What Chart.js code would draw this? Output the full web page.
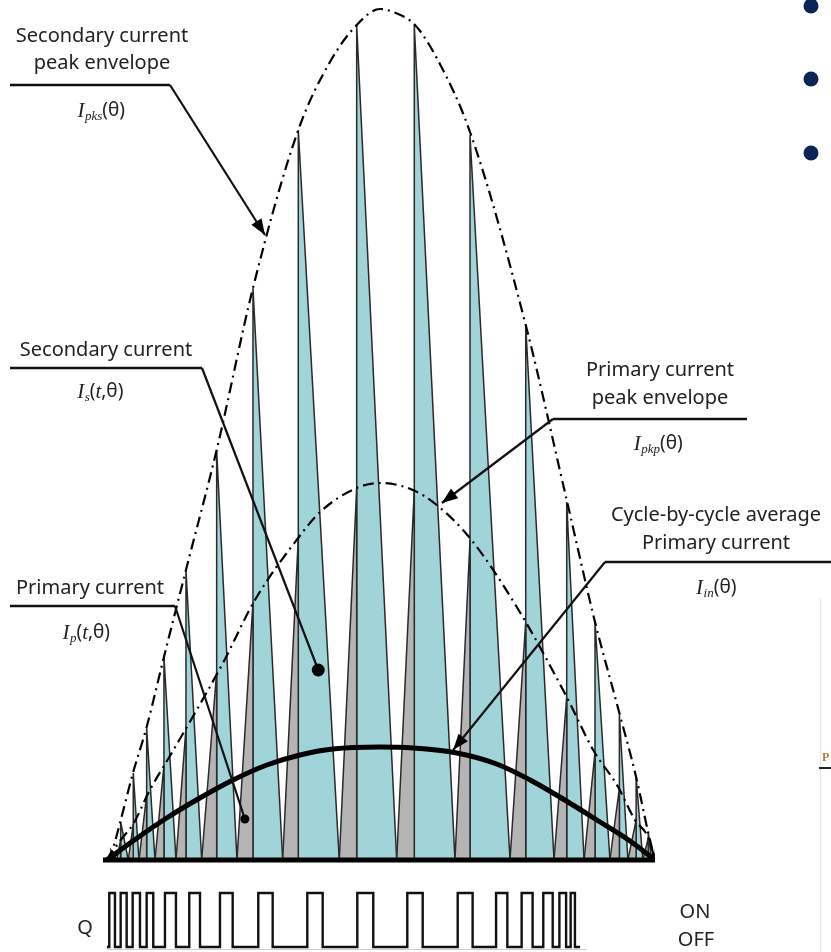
<!DOCTYPE html>
<html>
<head>
<meta charset="utf-8">
<script src="https://cdn.jsdelivr.net/npm/chart.js@4.4.0/dist/chart.umd.min.js"></script>
<style>
  html, body { margin: 0; padding: 0; background: #fff; }
  canvas { display: block; }
</style>
</head>
<body>
<canvas id="flybackChart" width="831" height="952"></canvas>
<script>
// switching cycles over half a line period (theta in degrees, currents in A)
const cycleOnStart   = [0, 3.19, 7.0, 10.51, 15.77, 22.67, 31.11, 42.7, 57.71, 76.3, 95.16, 114.3, 132.38, 146.83, 156.7, 165.2, 171.1, 176.0, 178.9];
const cycleSwitchAt  = [1.31, 4.5, 8.64, 13.04, 18.72, 25.95, 36.03, 47.96, 62.84, 82.02, 100.94, 119.24, 137.54, 151.0, 160.3, 168.3, 173.8, 177.8, 179.5];
const secondaryPeaks = [0.10, 0.38, 0.87, 1.32, 2.03, 2.90, 4.10, 5.72, 7.30, 8.35, 8.35, 7.25, 5.35, 3.58, 2.38, 1.45, 0.83, 0.27, 0.08];
const primaryPeaks   = [0.06, 0.20, 0.36, 0.65, 0.95, 1.32, 1.88, 2.58, 3.22, 3.72, 3.70, 3.20, 2.38, 1.63, 1.08, 0.72, 0.40, 0.22, 0.06];
const halfPeriodEnd  = 180;

// envelopes
const secEnvTheta  = [0, 1.97, 4.27, 8.54, 13.04, 18.72, 25.95, 36.03, 47.96, 62.84, 73.25, 82.02, 89.68, 93.95, 101.18, 108.3, 119.24, 137.54, 151.0, 160.3, 168.3, 173.8, 177.8, 180];
const secEnvValues = [0, 0.12, 0.37, 0.87, 1.33, 2.03, 2.90, 4.10, 5.72, 7.30, 7.98, 8.35, 8.51, 8.48, 8.35, 8.02, 7.28, 5.35, 3.60, 2.38, 1.47, 0.83, 0.27, 0];
const priEnvTheta  = [0, 1.31, 4.5, 8.64, 14.1, 21.25, 29.47, 38.1, 48.6, 62.3, 70.0, 82.0, 89.7, 100.5, 108.3, 119.2, 134.6, 151.0, 159.7, 167.9, 173.4, 177.7, 180];
const priEnvValues = [0, 0.06, 0.20, 0.36, 0.70, 1.07, 1.50, 1.97, 2.60, 3.20, 3.48, 3.72, 3.77, 3.70, 3.55, 3.22, 2.53, 1.63, 1.10, 0.73, 0.40, 0.23, 0];

// cycle-by-cycle average primary current
const avgTheta  = [0, 8.54, 19.6, 30.5, 41.4, 52.5, 63.4, 74.2, 89.7, 100.5, 114.9, 128.0, 139.0, 149.8, 160.9, 171.8, 180];
const avgValues = [0, 0.19, 0.42, 0.62, 0.80, 0.95, 1.05, 1.11, 1.13, 1.12, 1.07, 0.96, 0.80, 0.61, 0.40, 0.19, 0];

// gate signal Q: alternating rising / falling edges
const gateEdges = [0.76, 2.63, 4.5, 6.47, 8.44, 10.84, 13.04, 15.21, 19.05, 22.66, 27.03, 30.56, 37.12, 41.29, 49.7, 54.43,
                   65.8, 70.85, 82.22, 87.47, 98.64, 103.7, 115.2, 120.1, 127.8, 131.5, 136.2, 139.8, 143.3, 146.4, 148.6, 150.8, 152.3, 153.7];
const gateStart = 0;
const gateEnd = 155.4;

const TEAL = 'rgb(160, 212, 216)';
const GREY = 'rgb(180, 180, 180)';
const EDGE = '#2a2a2a';
const TEXT_FONT = '"Noto Sans", "DejaVu Sans", sans-serif';
const SERIF = '"Liberation Serif", "DejaVu Serif", serif';

function toPoints(xs, ys) {
    return xs.map((x, i) => ({ x: x, y: ys[i] }));
}

function buildSecondaryTriangles() {
    const pts = [];
    cycleSwitchAt.forEach((t, i) => {
        const end = i + 1 < cycleOnStart.length ? cycleOnStart[i + 1] : halfPeriodEnd;
        pts.push({ x: t, y: 0 }, { x: t, y: secondaryPeaks[i] }, { x: end, y: 0 });
    });
    return pts;
}

function buildPrimaryTriangles() {
    const pts = [];
    cycleOnStart.forEach((t, i) => {
        pts.push({ x: t, y: 0 }, { x: cycleSwitchAt[i], y: primaryPeaks[i] }, { x: cycleSwitchAt[i], y: 0 });
    });
    return pts;
}

function buildGatePoints() {
    const pts = [{ x: gateStart, y: 0 }];
    let level = 0;
    gateEdges.forEach(t => {
        level = 1 - level;
        pts.push({ x: t, y: level });
    });
    pts.push({ x: gateEnd, y: 0 });
    return pts;
}

// text pieces: plain label lines, math symbol, leader line
const callouts = [
    {
        lines: ['Secondary current', 'peak envelope'], cx: 102, ys: [36, 63],
        underline: [10, 170, 85], from: [170, 85],
        symbol: { cx: 101, y: 111, parts: [['I', 'i'], ['pks', 's'], ['(θ)', 't']] },
        target: { x: 51.9, y: 6.25 }, end: 'arrow'
    },
    {
        lines: ['Secondary current'], cx: 106, ys: [350],
        underline: [10, 202, 368], from: [202, 368],
        symbol: { cx: 100, y: 392, parts: [['I', 'i'], ['s', 's'], ['(', 't'], ['t', 'i'], [',θ)', 't']] },
        target: { x: 69.4, y: 1.90 }, end: 'dot', dot: 6.5
    },
    {
        lines: ['Primary current'], cx: 90, ys: [588],
        underline: [10, 175, 606], from: [175, 606],
        symbol: { cx: 86, y: 633, parts: [['I', 'i'], ['p', 's'], ['(', 't'], ['t', 'i'], [',θ)', 't']] },
        target: { x: 45.3, y: 0.41 }, end: 'dot', dot: 4.5
    },
    {
        lines: ['Primary current', 'peak envelope'], cx: 660, ys: [370, 398],
        underline: [553, 747, 419], from: [553, 419],
        symbol: { cx: 658, y: 444, parts: [['I', 'i'], ['pkp', 's'], ['(θ)', 't']] },
        target: { x: 110.0, y: 3.57 }, end: 'arrow'
    },
    {
        lines: ['Cycle-by-cycle average', 'Primary current'], cx: 716, ys: [515, 543],
        underline: [605, 831, 562], from: [605, 562],
        symbol: { cx: 716, y: 588, parts: [['I', 'i'], ['in', 's'], ['(θ)', 't']] },
        target: { x: 113.7, y: 1.10 }, end: 'arrow'
    }
];

function partFont(kind) {
    if (kind === 'i') return 'italic 21px ' + SERIF;
    if (kind === 's') return 'italic 13px ' + SERIF;
    return '19px ' + TEXT_FONT;
}

function drawSymbol(ctx, sym) {
    let total = 0;
    sym.parts.forEach(p => { ctx.font = partFont(p[1]); total += ctx.measureText(p[0]).width; });
    let x = sym.cx - total / 2;
    ctx.textAlign = 'left';
    sym.parts.forEach(p => {
        ctx.font = partFont(p[1]);
        ctx.fillText(p[0], x, sym.y + (p[1] === 's' ? 6 : 0));
        x += ctx.measureText(p[0]).width + (p[1] === 'i' && p[0] === 'I' ? 0.5 : 0);
    });
}

function drawArrowHead(ctx, x0, y0, x1, y1) {
    const ang = Math.atan2(y1 - y0, x1 - x0);
    const len = 16, half = 6;
    ctx.beginPath();
    ctx.moveTo(x1, y1);
    ctx.lineTo(x1 - len * Math.cos(ang) + half * Math.sin(ang), y1 - len * Math.sin(ang) - half * Math.cos(ang));
    ctx.lineTo(x1 - len * Math.cos(ang) - half * Math.sin(ang), y1 - len * Math.sin(ang) + half * Math.cos(ang));
    ctx.closePath();
    ctx.fill();
}

const calloutPlugin = {
    id: 'callouts',
    afterDraw(chart) {
        const ctx = chart.ctx;
        const xs = chart.scales.x, ys = chart.scales.y;
        ctx.save();
        ctx.fillStyle = '#222';
        ctx.strokeStyle = '#111';
        ctx.textBaseline = 'middle';
        callouts.forEach(c => {
            ctx.font = '20px ' + TEXT_FONT;
            ctx.textAlign = 'center';
            ctx.fillStyle = '#222';
            c.lines.forEach((line, i) => ctx.fillText(line, c.cx, c.ys[i]));
            drawSymbol(ctx, c.symbol);

            ctx.lineWidth = 2.4;
            ctx.beginPath();
            ctx.moveTo(c.underline[0], c.underline[2]);
            ctx.lineTo(c.underline[1], c.underline[2]);
            ctx.stroke();

            const tx = xs.getPixelForValue(c.target.x);
            const ty = ys.getPixelForValue(c.target.y);
            ctx.lineWidth = 2.2;
            ctx.beginPath();
            ctx.moveTo(c.from[0], c.from[1]);
            ctx.lineTo(tx, ty);
            ctx.stroke();
            ctx.fillStyle = '#000';
            if (c.end === 'arrow') {
                drawArrowHead(ctx, c.from[0], c.from[1], tx, ty);
            } else {
                ctx.beginPath();
                ctx.arc(tx, ty, c.dot, 0, Math.PI * 2);
                ctx.fill();
            }
        });

        // gate signal labels
        ctx.fillStyle = '#222';
        ctx.font = '20px ' + TEXT_FONT;
        ctx.textAlign = 'center';
        ctx.fillText('Q', 85, 928);
        ctx.fillText('ON', 695, 912);
        ctx.fillText('OFF', 696, 940);

        // light rule under the gate trace
        ctx.strokeStyle = '#cfcfcf';
        ctx.lineWidth = 1;
        ctx.beginPath();
        ctx.moveTo(107, 949.5);
        ctx.lineTo(587, 949.5);
        ctx.stroke();

        // slide bullets and page edge remnants
        ctx.fillStyle = '#0c2557';
        [6, 79, 153].forEach(y => {
            ctx.beginPath();
            ctx.arc(811, y, 7.5, 0, Math.PI * 2);
            ctx.fill();
        });
        ctx.strokeStyle = '#e6e6e6';
        ctx.beginPath();
        ctx.moveTo(820.5, 598);
        ctx.lineTo(820.5, 952);
        ctx.stroke();
        ctx.fillStyle = '#b07a3a';
        ctx.font = 'bold 12px ' + SERIF;
        ctx.textAlign = 'left';
        ctx.fillText('P', 822, 758);
        ctx.strokeStyle = '#222';
        ctx.lineWidth = 2;
        ctx.beginPath();
        ctx.moveTo(819, 768);
        ctx.lineTo(831, 768);
        ctx.stroke();
        ctx.restore();
    }
};

const dashDot = [11, 5, 2, 5];

new Chart(document.getElementById('flybackChart').getContext('2d'), {
    type: 'line',
    data: {
        datasets: [
            {
                label: 'Secondary current',
                data: buildSecondaryTriangles(),
                borderColor: EDGE, borderWidth: 1.5, backgroundColor: TEAL,
                fill: 'origin', pointRadius: 0, tension: 0, order: 6
            },
            {
                label: 'Primary current',
                data: buildPrimaryTriangles(),
                borderColor: EDGE, borderWidth: 1.5, backgroundColor: GREY,
                fill: 'origin', pointRadius: 0, tension: 0, order: 5
            },
            {
                label: 'Secondary current peak envelope',
                data: toPoints(secEnvTheta, secEnvValues),
                borderColor: '#000', borderWidth: 2.2, borderDash: dashDot,
                fill: false, pointRadius: 0, cubicInterpolationMode: 'monotone', order: 4
            },
            {
                label: 'Primary current peak envelope',
                data: toPoints(priEnvTheta, priEnvValues),
                borderColor: '#000', borderWidth: 2.2, borderDash: dashDot,
                fill: false, pointRadius: 0, cubicInterpolationMode: 'monotone', order: 3
            },
            {
                label: 'Cycle-by-cycle average primary current',
                data: toPoints(avgTheta, avgValues),
                borderColor: '#000', borderWidth: 5,
                fill: false, pointRadius: 0, cubicInterpolationMode: 'monotone', order: 2
            },
            {
                label: 'Axis',
                data: [{ x: -1.3, y: 0 }, { x: halfPeriodEnd, y: 0 }],
                borderColor: '#000', borderWidth: 5, borderCapStyle: 'butt',
                fill: false, pointRadius: 0, order: 1
            },
            {
                label: 'Q',
                data: buildGatePoints(),
                yAxisID: 'yq',
                borderColor: '#111', borderWidth: 2.4, stepped: true,
                fill: false, pointRadius: 0, order: 1
            }
        ]
    },
    options: {
        responsive: false,
        animation: false,
        events: [],
        layout: { padding: { left: 103, right: 176, top: 0, bottom: 0 } },
        plugins: {
            legend: { display: false },
            tooltip: { enabled: false },
            title: { display: false }
        },
        scales: {
            x: { type: 'linear', min: -1.3, max: 180, display: false },
            y: { type: 'linear', min: -0.92, max: 8.6, display: false },
            yq: { type: 'linear', min: -0.0926, max: 17.537, display: false }
        }
    },
    plugins: [calloutPlugin]
});
</script>
</body>
</html>
